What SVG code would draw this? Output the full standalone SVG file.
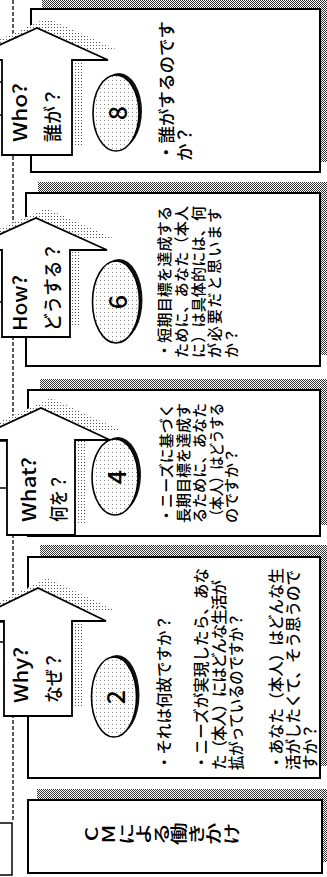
<svg xmlns="http://www.w3.org/2000/svg" width="327" height="877" viewBox="0 0 327 877">
<defs>
<pattern id="hatch" width="2" height="2" patternUnits="userSpaceOnUse"><rect width="2" height="2" fill="#fff"/><rect width="1" height="1" fill="#333"/><rect x="1" y="1" width="1" height="1" fill="#333"/></pattern>
<pattern id="stip" width="3" height="3" patternUnits="userSpaceOnUse"><rect width="3" height="3" fill="#fff"/><rect width="1" height="1" fill="#555"/></pattern>
<pattern id="dots" width="4" height="4" patternUnits="userSpaceOnUse"><rect width="4" height="4" fill="#fff"/><rect width="1" height="1" fill="#888"/></pattern>
</defs>
<style>
.box{fill:#fff;stroke:#000;stroke-width:2}
.bsh{fill:url(#hatch)}
.arr{fill:#fff;stroke:#000;stroke-width:1.8;stroke-linejoin:miter}
.ash{fill:url(#stip)}
.ell{fill:url(#dots);stroke:#000;stroke-width:1.6}
.esh{fill:#111}
.part{fill:#fff;stroke:#000;stroke-width:1.5}
text{font-family:"Noto Sans CJK JP","Noto Sans",sans-serif;fill:#000;font-weight:500}
.jp{font-size:15px;dominant-baseline:central}
.num{font-size:25px;text-anchor:middle;dominant-baseline:central}
.lbl{font-size:19px;dominant-baseline:central}
.cm{font-size:17.5px;writing-mode:vertical-rl;text-orientation:upright}
</style>
<rect width="327" height="877" fill="#fff"/>

<g id="connectors">
<line x1="13" y1="0" x2="13" y2="822" stroke="#000" stroke-width="1.3" stroke-dasharray="4 2"/>
</g>

<g id="left-partials">
<rect class="part" x="-20" y="82" width="23" height="33"/>
<rect class="part" x="-20" y="250" width="22" height="52"/>
<rect class="part" x="-20" y="441" width="27" height="47"/>
<rect class="part" x="-20" y="622" width="24" height="20"/>
<rect class="part" x="-20" y="823" width="32" height="52"/>
</g>

<g id="box-cm">
<rect class="bsh" x="37" y="789" width="300" height="73"/>
<rect class="box" x="28" y="800" width="294" height="73"/>
<text class="cm" transform="translate(161,834) rotate(-90) scale(1.3,1)" text-anchor="middle">CMによる働きかけ</text>
</g>

<g id="step-2">
<rect class="bsh" x="40" y="545" width="300" height="221"/>
<rect class="box" x="28" y="557" width="292" height="221"/>
<ellipse class="esh" cx="117" cy="695" rx="22.5" ry="40"/>
<ellipse class="ell" cx="114" cy="697" rx="22.5" ry="40"/>
<text class="num" transform="translate(114,697) rotate(-90)">2</text>
<g transform="translate(163,770) rotate(-90)">
<text class="jp" x="0" y="0" style="font-size:15.5px">・それは何故ですか？</text>
<text class="jp" x="0" y="37" style="font-size:15.5px" textLength="202" lengthAdjust="spacing">・ニーズが実現したら、あな</text>
<text class="jp" x="0" y="55" style="font-size:15.5px" textLength="190" lengthAdjust="spacing">た（本人）にはどんな生活が</text>
<text class="jp" x="0" y="72" style="font-size:15.5px" textLength="157" lengthAdjust="spacingAndGlyphs">拡がっているのですか？</text>
<text class="jp" x="0" y="112" style="font-size:15.5px" textLength="202" lengthAdjust="spacing">・あなた（本人）はどんな生</text>
<text class="jp" x="0" y="129" style="font-size:15.5px" textLength="200" lengthAdjust="spacing">活がしたくて、そう思うので</text>
<text class="jp" x="0" y="146" style="font-size:15.5px">すか？</text>
</g>
</g>

<g id="step-4">
<rect class="bsh" x="40" y="379" width="300" height="146"/>
<rect class="box" x="28" y="390" width="292" height="146"/>
<ellipse class="esh" cx="118" cy="475" rx="23" ry="38"/>
<ellipse class="ell" cx="115" cy="477" rx="23" ry="38"/>
<text class="num" transform="translate(115,477) rotate(-90)">4</text>
<g transform="translate(165,523) rotate(-90)">
<text class="jp" x="0" y="0" textLength="120" lengthAdjust="spacing">・ニーズに基づく</text>
<text class="jp" x="0" y="17" textLength="120" lengthAdjust="spacing">長期目標を達成す</text>
<text class="jp" x="0" y="33" textLength="120" lengthAdjust="spacing">るために、あなた</text>
<text class="jp" x="0" y="50" textLength="120" lengthAdjust="spacingAndGlyphs">（本人）はどうする</text>
<text class="jp" x="0" y="65">のですか？</text>
</g>
</g>

<g id="step-6">
<rect class="bsh" x="38" y="182" width="300" height="173"/>
<rect class="box" x="26" y="193" width="294" height="173"/>
<ellipse class="esh" cx="119" cy="300" rx="23.5" ry="41"/>
<ellipse class="ell" cx="116" cy="302" rx="23.5" ry="41"/>
<text class="num" transform="translate(116,302) rotate(-90)">6</text>
<g transform="translate(163,358) rotate(-90)">
<text class="jp" x="0" y="0" textLength="152" lengthAdjust="spacing">・短期目標を達成する</text>
<text class="jp" x="0" y="17" textLength="152" lengthAdjust="spacing">ために、あなた（本人</text>
<text class="jp" x="0" y="34" textLength="152" lengthAdjust="spacing">に）は具体的には、何</text>
<text class="jp" x="0" y="50" textLength="150" lengthAdjust="spacing">が必要だと思います</text>
<text class="jp" x="0" y="67">か？</text>
</g>
</g>

<g id="step-8">
<rect class="bsh" x="42" y="-1" width="300" height="163"/>
<rect class="box" x="31" y="9" width="289" height="163"/>
<ellipse class="esh" cx="119" cy="111" rx="23" ry="38"/>
<ellipse class="ell" cx="116" cy="113" rx="23" ry="38"/>
<text class="num" transform="translate(116,113) rotate(-90)">8</text>
<g transform="translate(165,161) rotate(-90)">
<text class="jp" x="0" y="0" style="font-size:17.5px">・誰がするのです</text>
<text class="jp" x="0" y="18" style="font-size:17.5px">か？</text>
</g>
</g>

<g id="arrow-why">
<path class="ash" d="M14,706 L14,611 L-20,611 L48,578 L116,611 L82,611 L82,706 Z"/>
<path class="arr" d="M4,716 L4,621 L-30,621 L38,588 L106,621 L72,621 L72,716 Z"/>
<text class="lbl" transform="translate(19,703) rotate(-90)" textLength="56" lengthAdjust="spacingAndGlyphs">Why?</text>
<text class="lbl" transform="translate(52,703) rotate(-90)" textLength="51" lengthAdjust="spacingAndGlyphs">なぜ？</text>
</g>

<g id="arrow-what">
<path class="ash" d="M17,525 L17,430 L-18,430 L51,398 L120,430 L85,430 L85,525 Z"/>
<path class="arr" d="M7,535 L7,440 L-28,440 L41,408 L110,440 L75,440 L75,535 Z"/>
<text class="lbl" transform="translate(27,522) rotate(-90)" textLength="65" lengthAdjust="spacingAndGlyphs">What?</text>
<text class="lbl" transform="translate(57,522) rotate(-90)" textLength="48" lengthAdjust="spacingAndGlyphs">何を？</text>
</g>

<g id="arrow-how">
<path class="ash" d="M12,327 L12,240 L-25,240 L46,208 L117,240 L80,240 L80,327 Z"/>
<path class="arr" d="M2,337 L2,250 L-35,250 L36,218 L107,250 L70,250 L70,337 Z"/>
<text class="lbl" transform="translate(18,331) rotate(-90)" textLength="56" lengthAdjust="spacingAndGlyphs">How?</text>
<text class="lbl" transform="translate(51,331) rotate(-90)" textLength="88" lengthAdjust="spacingAndGlyphs">どうする？</text>
</g>

<g id="arrow-who">
<path class="ash" d="M12,145 L12,50 L-24,50 L47,18 L118,50 L82,50 L82,145 Z"/>
<path class="arr" d="M2,155 L2,60 L-34,60 L37,28 L108,60 L72,60 L72,155 Z"/>
<text class="lbl" transform="translate(18,142) rotate(-90)" textLength="59" lengthAdjust="spacingAndGlyphs">Who?</text>
<text class="lbl" transform="translate(51,142) rotate(-90)" textLength="54" lengthAdjust="spacingAndGlyphs">誰が？</text>
</g>
</svg>
